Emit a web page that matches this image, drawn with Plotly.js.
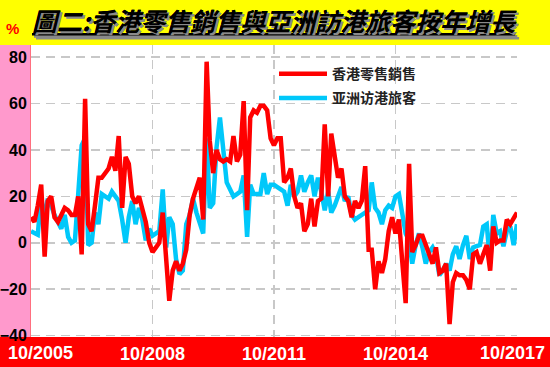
<!DOCTYPE html>
<html>
<head>
<meta charset="utf-8">
<script src="https://cdn.plot.ly/plotly-3.0.1.min.js"></script>
<style>
  html, body { margin: 0; padding: 0; background: #ffffff; }
  #chart { width: 550px; height: 367px; }
</style>
</head>
<body>
<div id="chart"></div>
<script>
// ---- data (monthly, year-on-year %, Oct 2005 .. Oct 2017) ----
var startYear = 2005;
var startMonth = 10;

var retailSales = [
  11, 9, 16, 25, -6, 18, 20, 11, 9, 12,
  15, 14, 12, 12, 20, -5, 62, 8, 5, 16,
  28, 28, 30, 32, 37, 31, 46, 15, 37, 34,
  20, 17, 20, 15, 9, 0, -4, -2, 0, 13,
  -8, -25, -12, -8, -12, -9, -3, 12, 19, 23,
  28, 10, 78, 44, 30, 40, 36, 35, 36, 35,
  46, 35, 38, 61, 14, 54, 57, 56, 59, 59,
  57, 45, 42, 45, 45, 26, 28, 32, 20, 15,
  17, 5, 8, 19, 7, 18, 19, 51, 20, 47,
  38, 28, 32, 20, 18, 11, 18, 15, 18, 33,
  -3, -3, -20, -8, -13, -7, 5, 11, 4, 10,
  -8, -26, 34, -4, -1, 3, 3, -1, -4, -9,
  -2, -13, -12, -9, -35, -17, -13, -14, -14, -16,
  -20, -5, -4, -9, -5, -1, -12, 7, 0, 1,
  1, 10, 8, 11, 13
];

var asianVisitors = [
  5, 4, 3.5, 20, 9, 19, 16, 12, 9, 6,
  12, 2.5, 0, 1, 21, 42, 45, -1, 0, 13,
  8, 21, 20, 19, 22, 20, 18, 10, 0, 11,
  18, 8, 15, 10, 1, 6, 3, 4, 5, 23,
  -2, 11, 8, -7, -13.5, -12, 8, 12, 19, 13,
  8, 4, 45, 15, 17, 41, 54, 40, 26, 23,
  20, 21, 22, 29, 2.5, 25, 21, 21, 21, 30,
  21, 25, 25, 24, 23, 22, 16, 25, 20, 22,
  29, 22, 26, 29, 20, 28, 22, 14, 22, 13,
  16, 20, 24, 18, 20, 12, 10, 11, 12, 13,
  14, 26, 15, 13, 8, 14, 16, 15, 20, 21,
  13, 4, 1, -9, -1, 4, -2, -9, -4, -2,
  -5, -14, -12, -9, -12, -5, -1.5, -7, -1, 3,
  -7, -2, -1.5, -1, 7, 8, -9, 12, 4, 5,
  -1.5, 5, 7, -1, 8
];

var seriesNames = ['香港零售銷售', '亚洲访港旅客'];
var tickDates = ['2005-10-01', '2008-10-01', '2011-10-01', '2014-10-01', '2017-10-01'];
var tickLabels = ['10/2005', '10/2008', '10/2011', '10/2014', '10/2017'];
var yTicks = [-40, -20, 0, 20, 40, 60, 80];
var titleText = '圖二:香港零售銷售與亞洲訪港旅客按年增長';

// month categories for the x axis
var months = [];
for (var i = 0; i < retailSales.length; i++) {
  var m = startMonth - 1 + i;
  var y = startYear + Math.floor(m / 12);
  var mm = (m % 12) + 1;
  months.push(y + '-' + (mm < 10 ? '0' + mm : mm) + '-01');
}

var numFont = 'Liberation Sans, Arial, sans-serif';
var cjkFont = 'Noto Sans CJK TC, Noto Sans CJK SC, sans-serif';
var xLabelFont = { family: numFont, size: 18, color: '#ffffff', weight: 'bold' };

// inner ticks drawn by the axis; the two edge labels are kept inside the frame as annotations
var axisTickText = tickLabels.map(function (t, k) {
  return (k === 0 || k === tickLabels.length - 1) ? '' : t;
});

var traces = [
  {
    x: months, y: asianVisitors, name: seriesNames[1], type: 'scatter', mode: 'lines',
    line: { color: '#00C8FA', width: 4.5 }, legendgroup: 'b', legendrank: 2
  },
  {
    x: months, y: retailSales, name: seriesNames[0], type: 'scatter', mode: 'lines',
    line: { color: '#FF0000', width: 4.5 }, legendgroup: 'a', legendrank: 1
  }
];

var layout = {
  width: 550, height: 367,
  margin: { l: 31, r: 33, t: 45, b: 30, pad: 0 },
  paper_bgcolor: '#ffffff',
  plot_bgcolor: '#ffffff',
  showlegend: true,
  legend: {
    x: 0.5, y: 0.955, xanchor: 'left', yanchor: 'top',
    bgcolor: 'rgba(0,0,0,0)', borderwidth: 0,
    traceorder: 'grouped', tracegroupgap: 3, itemwidth: 48,
    font: { family: cjkFont, size: 14, color: '#222222', weight: 'bold' }
  },
  xaxis: {
    type: 'date',
    range: ['2005-10-01', '2017-10-01'],
    tickmode: 'array', tickvals: tickDates, ticktext: axisTickText,
    showgrid: true, gridcolor: '#C8C8C8', gridwidth: 1.5, griddash: '9px,6px',
    zeroline: false, showline: false, ticks: '',
    ticklabelstandoff: 4,
    tickfont: xLabelFont,
    fixedrange: true
  },
  yaxis: {
    range: [-40.6, 85.2],
    tickmode: 'array', tickvals: yTicks,
    showgrid: true, gridcolor: '#C8C8C8', gridwidth: 1.5, griddash: '9px,6px',
    zeroline: false, showline: true, linecolor: '#FF6F7F', linewidth: 1,
    ticks: '',
    tickfont: { family: numFont, size: 16, color: '#000000', weight: 'bold' },
    fixedrange: true
  },
  shapes: [
    { type: 'rect', xref: 'paper', yref: 'paper', x0: -0.07, x1: 1.08, y0: 1.0, y1: 1.16,
      fillcolor: '#FFFF00', line: { width: 0 }, layer: 'below' },
    { type: 'rect', xref: 'paper', yref: 'paper', x0: -0.07, x1: 0, y0: 0, y1: 1.0,
      fillcolor: '#FF99CC', line: { width: 0 }, layer: 'below' },
    { type: 'rect', xref: 'paper', yref: 'paper', x0: -0.07, x1: 1.08, y0: -0.11, y1: 0,
      fillcolor: '#FF0000', line: { width: 0 }, layer: 'below' }
  ],
  annotations: [
    { text: titleText, xref: 'paper', yref: 'paper', x: 0.502, y: 1.086,
      xanchor: 'center', yanchor: 'middle', showarrow: false,
      font: { family: cjkFont, size: 25, color: '#000000', weight: 'bold', style: 'italic',
              lineposition: 'under', shadow: '2px 2px 0px #8a8a8a' } },
    { text: '%', xref: 'paper', yref: 'paper', x: -0.038, y: 1.058,
      xanchor: 'center', yanchor: 'middle', showarrow: false,
      font: { family: numFont, size: 15, color: '#FF0000', weight: 'bold' } },
    { text: tickLabels[0], xref: 'x', yref: 'paper', x: tickDates[0], y: -0.055,
      xanchor: 'left', yanchor: 'middle', showarrow: false, xshift: -25,
      font: xLabelFont },
    { text: tickLabels[tickLabels.length - 1], xref: 'x', yref: 'paper',
      x: tickDates[tickDates.length - 1], y: -0.055,
      xanchor: 'right', yanchor: 'middle', showarrow: false, xshift: 30,
      font: xLabelFont }
  ]
};

Plotly.newPlot('chart', traces, layout, { staticPlot: true, displayModeBar: false });
</script>
</body>
</html>
